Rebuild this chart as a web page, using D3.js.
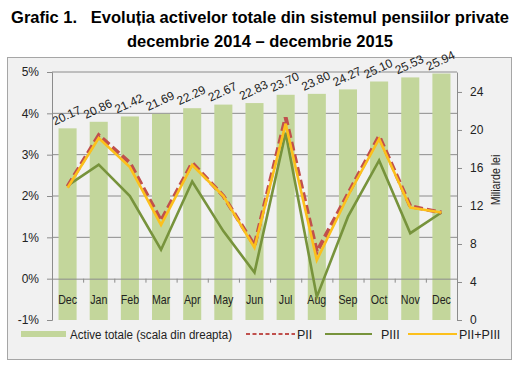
<!DOCTYPE html>
<html>
<head>
<meta charset="utf-8">
<script src="https://cdnjs.cloudflare.com/ajax/libs/d3/7.8.5/d3.min.js"></script>
<style>
  body { margin: 0; background: #fff; }
  text { font-family: "Liberation Sans", Arial, sans-serif; }
</style>
</head>
<body>
<div id="chart"></div>
<script>
const months = ['Dec', 'Jan', 'Feb', 'Mar', 'Apr', 'May', 'Jun', 'Jul', 'Aug', 'Sep', 'Oct', 'Nov', 'Dec'];
const activeTotale = [20.17, 20.86, 21.42, 21.69, 22.29, 22.67, 22.83, 23.70, 23.80, 24.27, 25.10, 25.53, 25.94];
const pII = [2.23, 3.47, 2.8, 1.4, 2.8, 2.0, 0.8, 3.9, 0.65, 2.05, 3.45, 1.75, 1.6];
const pIII = [2.25, 2.76, 2.0, 0.7, 2.35, 1.15, 0.15, 3.53, -0.44, 1.5, 2.86, 1.1, 1.6];
const pIIplusIII = [2.2, 3.4, 2.7, 1.3, 2.75, 2.0, 0.75, 3.75, 0.45, 2.0, 3.38, 1.72, 1.6];
const leftTicks = [-1, 0, 1, 2, 3, 4, 5];
const rightTicks = [0, 4, 8, 12, 16, 20, 24];

var W = 518, H = 377;
var margin = {top: 72, right: 61, bottom: 57, left: 52};
var width = W - margin.left - margin.right;
var height = H - margin.top - margin.bottom;

var svg = d3.select("#chart").append("svg")
    .attr("width", W).attr("height", H);

// title
svg.append("text").attr("x", 260).attr("y", 23)
  .attr("text-anchor", "middle").style("white-space", "pre")
  .style("font-size", "16.5px").style("font-weight", "bold")
  .text("Grafic 1.   Evoluția activelor totale din sistemul pensiilor private");
svg.append("text").attr("x", 260).attr("y", 47)
  .attr("text-anchor", "middle")
  .style("font-size", "16.5px").style("font-weight", "bold")
  .text("decembrie 2014 – decembrie 2015");

// frame
svg.append("rect").attr("x", 7.5).attr("y", 57.5).attr("width", 504).attr("height", 302)
  .attr("fill", "#f1f1f1").attr("stroke", "#a6a6a6");

var g = svg.append("g").attr("transform", "translate(" + margin.left + "," + margin.top + ")");

var x = d3.scaleBand().domain(d3.range(months.length)).range([0, width]).paddingInner(0.42).paddingOuter(0.21);
var yL = d3.scaleLinear().domain([-1, 5]).range([height, 0]);
var yR = d3.scaleLinear().domain([0, 26.1]).range([height, 0]);

// gridlines
g.selectAll(".grid").data(leftTicks.filter(d => d > 0)).enter().append("line")
  .attr("x1", 0).attr("x2", width)
  .attr("y1", d => yL(d)).attr("y2", d => yL(d))
  .attr("stroke", "#8c8c8c").attr("stroke-width", 1);

// bars
g.selectAll(".bar").data(activeTotale).enter().append("rect")
  .attr("x", (d, i) => x(i)).attr("width", x.bandwidth())
  .attr("y", d => yR(d)).attr("height", d => height - yR(d))
  .attr("fill", "#c3d69b");

// bar labels (narrow, tilted)
g.selectAll(".blab").data(activeTotale).enter().append("g")
  .attr("transform", (d, i) => "translate(" + (x(i) + x.bandwidth() / 2 - 1) + "," + (yR(d) - 13) + ")")
  .append("text")
  .attr("transform", "rotate(-25)")
  .attr("text-anchor", "middle").attr("dy", "0.35em")
  .style("font-size", "12px").attr("fill", "#222")
  .text(d => d.toFixed(2));

// x axis at 0%
var xAxis = d3.axisBottom(d3.scalePoint().domain(d3.range(months.length + 1)).range([0, width]))
  .tickSize(4).tickFormat("");
g.append("g").attr("transform", "translate(0," + yL(0) + ")").call(xAxis)
  .call(a => a.selectAll("line,path").attr("stroke", "#8c8c8c"));

g.selectAll(".mlab").data(months).enter().append("text")
  .attr("transform", (d, i) => "translate(" + (x(i) + x.bandwidth() / 2) + "," + (yL(0) + 25) + ") scale(0.85,1)")
  .attr("text-anchor", "middle").style("font-size", "12.5px").attr("fill", "#222")
  .text(d => d);

// left axis
g.append("g").call(d3.axisLeft(yL).tickValues(leftTicks).tickSize(5).tickFormat(d => d + "%"))
  .call(a => a.selectAll("line,path").attr("stroke", "#8c8c8c"))
  .call(a => a.selectAll("text").style("font-size", "12px").attr("fill", "#222").attr("x", -13));

// right axis
g.append("g").attr("transform", "translate(" + width + ",0)")
  .call(d3.axisRight(yR).tickValues(rightTicks).tickSize(5).tickSizeOuter(0))
  .call(a => a.selectAll("line,path").attr("stroke", "#8c8c8c"))
  .call(a => a.selectAll("text").style("font-size", "12px").attr("fill", "#222").attr("x", 13));

svg.append("text").attr("transform", "translate(500," + 180 + ") rotate(-90) scale(0.85,1)")
  .attr("text-anchor", "middle").style("font-size", "12.5px").attr("fill", "#222")
  .text("Miliarde lei");

// lines
var line = d3.line().x((d, i) => x(i) + x.bandwidth() / 2).y(d => yL(d));
g.append("path").datum(pIII).attr("d", line).attr("fill", "none")
  .attr("stroke", "#77933c").attr("stroke-width", 2.6);
g.append("path").datum(pII).attr("d", line).attr("fill", "none")
  .attr("stroke", "#c0504d").attr("stroke-width", 4).attr("stroke-dasharray", "9,4");
g.append("path").datum(pIIplusIII).attr("d", line).attr("fill", "none")
  .attr("stroke", "#fcc01c").attr("stroke-width", 2.6);

// legend
var leg = svg.append("g").attr("transform", "translate(0,334)");
leg.append("rect").attr("x", 21).attr("y", -3).attr("width", 45).attr("height", 6).attr("fill", "#c3d69b");
leg.append("text").attr("x", 70).attr("y", 4.5).style("font-size", "12.5px").attr("fill", "#222")
  .attr("textLength", 162).attr("lengthAdjust", "spacingAndGlyphs")
  .text("Active totale (scala din dreapta)");
leg.append("line").attr("x1", 246).attr("x2", 295).attr("y1", 0).attr("y2", 0)
  .attr("stroke", "#c0504d").attr("stroke-width", 2).attr("stroke-dasharray", "4,2.5");
leg.append("text").attr("x", 297).attr("y", 4.5).style("font-size", "12.5px").attr("fill", "#222").text("PII");
leg.append("line").attr("x1", 325).attr("x2", 372).attr("y1", 0).attr("y2", 0)
  .attr("stroke", "#77933c").attr("stroke-width", 2);
leg.append("text").attr("x", 381).attr("y", 4.5).style("font-size", "12.5px").attr("fill", "#222").text("PIII");
leg.append("line").attr("x1", 408).attr("x2", 457).attr("y1", 0).attr("y2", 0)
  .attr("stroke", "#fcc01c").attr("stroke-width", 2);
leg.append("text").attr("x", 459).attr("y", 4.5).style("font-size", "12.5px").attr("fill", "#222").text("PII+PIII");
</script>
</body>
</html>
